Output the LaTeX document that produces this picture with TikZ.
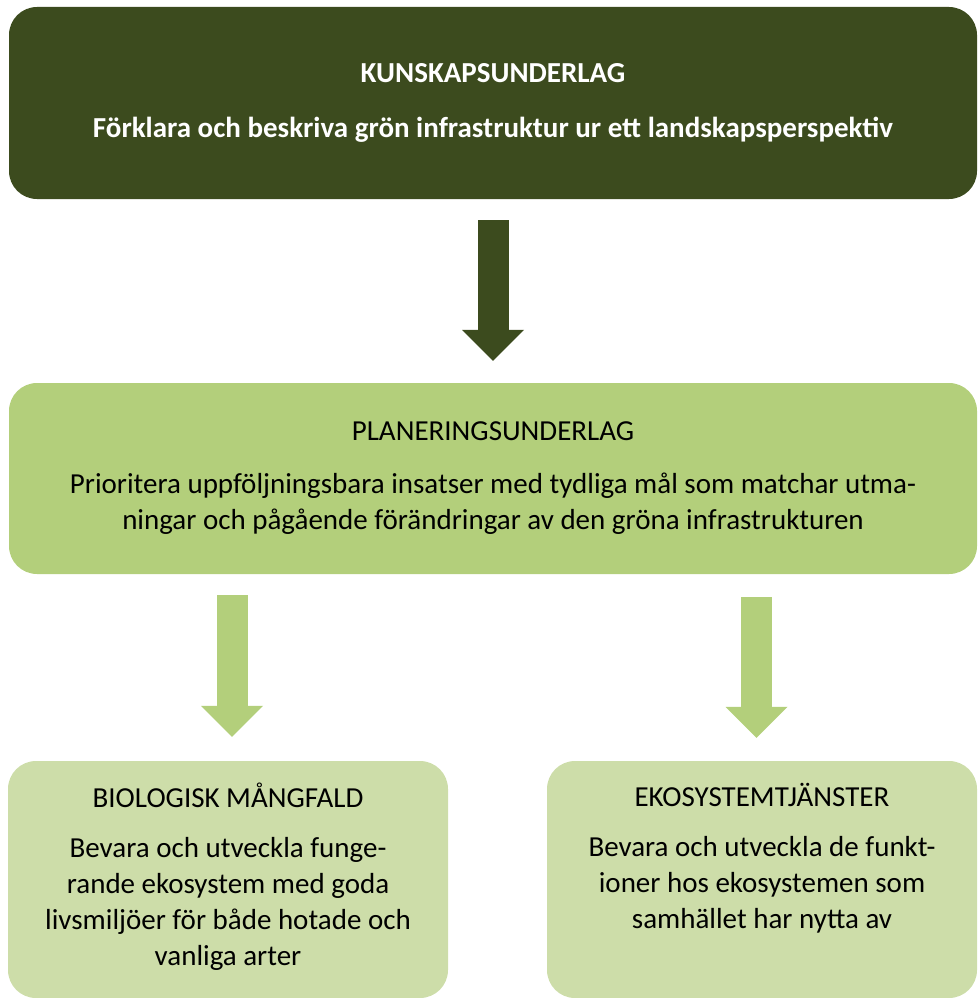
\documentclass[tikz,border=0pt]{standalone}
\usepackage{fontspec}
\setmainfont{Carlito}
\usepackage{tikz}
\usetikzlibrary{arrows.meta, positioning}
\definecolor{darkolive}{HTML}{3C4B1E}
\definecolor{midgreen}{HTML}{B3CF7B}
\definecolor{palegreen}{HTML}{CDDDA9}
\tikzstyle{panel} = [rectangle, rounded corners=28pt, inner sep=0pt, align=center,
                     font=\fontsize{29}{36}\selectfont]
\tikzstyle{bigarrow} = [line width=31pt, -{Triangle[width=62pt, length=31pt, line width=0pt]},
                        shorten <=21pt, shorten >=22pt]

\begin{document}
\begin{tikzpicture}[x=1pt, y=-1pt]
				\useasboundingbox (0, 0) rectangle (977, 998);

				\node (Kunskap) [panel, fill=darkolive, text=white, minimum width=968pt, minimum height=192pt,
					font=\fontsize{29}{36}\selectfont\bfseries] at (493, 103)
					{KUNSKAPSUNDERLAG\\[19pt]
					Förklara och beskriva grön infrastruktur ur ett landskapsperspektiv};

				\node (Planering) [panel, fill=midgreen, minimum width=968pt, minimum height=191pt] at (493, 478.5)
					{PLANERINGSUNDERLAG\\[17pt]
					Prioritera uppföljningsbara insatser med tydliga mål som matchar utma-\\
					ningar och pågående förändringar av den gröna infrastrukturen};
				\draw [bigarrow, darkolive] (Kunskap) -- (Planering);

				\node (Biologisk) [panel, fill=palegreen, minimum width=440pt, minimum height=237pt] at (228, 879.5)
					{BIOLOGISK MÅNGFALD\\[14pt]
					Bevara och utveckla funge-\\
					rande ekosystem med goda\\
					livsmiljöer för både hotade och\\
					vanliga arter\strut};
				\draw [bigarrow, midgreen, shorten >=24pt] ([xshift=4pt]Biologisk.north |- Planering.south) -- ([xshift=4pt]Biologisk.north);

				\node (Ekosystem) [panel, fill=palegreen, minimum width=430pt, minimum height=237pt] at (762, 879.5)
					{EKOSYSTEMTJÄNSTER\\[14pt]
					Bevara och utveckla de funkt-\\
					ioner hos ekosystemen som\\
					samhället har nytta av\\
					\strut};
				\draw [bigarrow, midgreen, shorten <=23pt, shorten >=23pt] ([xshift=-5.5pt]Ekosystem.north |- Planering.south) -- ([xshift=-5.5pt]Ekosystem.north);
			\end{tikzpicture}
\end{document}
